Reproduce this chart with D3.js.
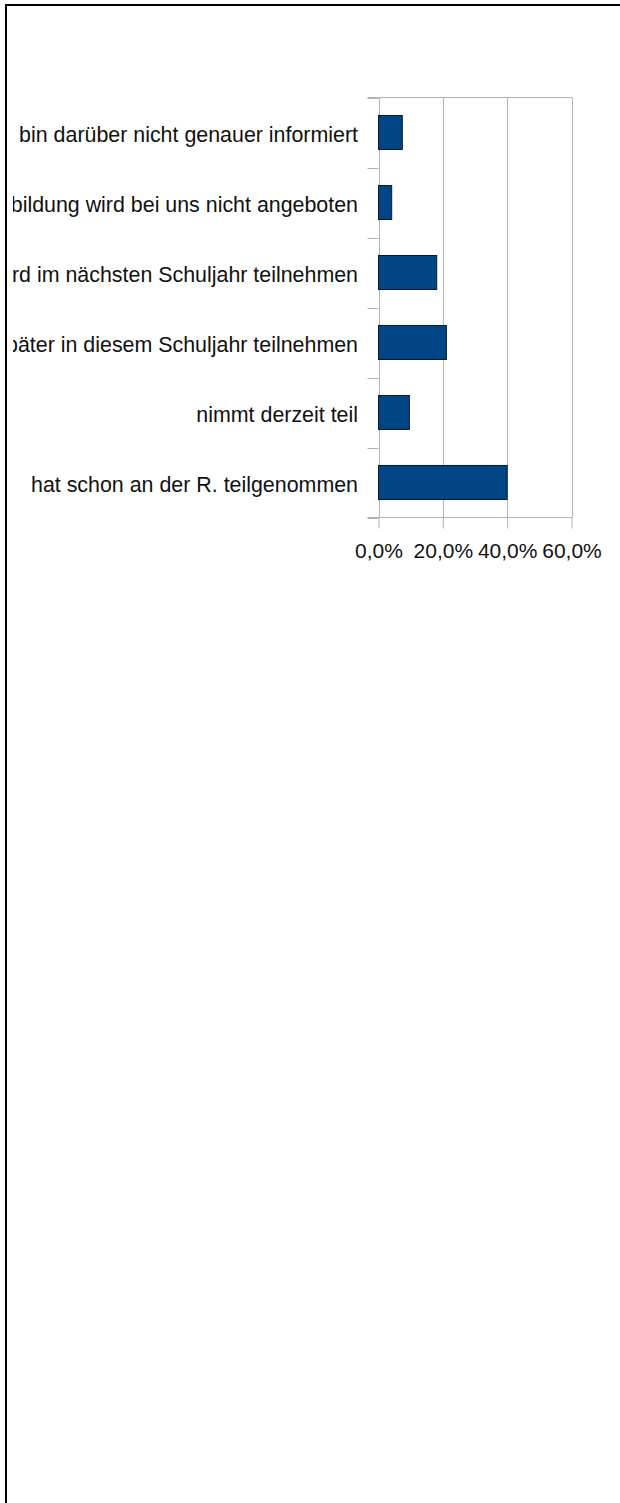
<!DOCTYPE html>
<html>
<head>
<meta charset="utf-8">
<script src="https://cdn.jsdelivr.net/npm/d3@7"></script>
<style>
  html, body { margin: 0; padding: 0; background: #fff; }
  svg { display: block; }
  text { font-family: "Liberation Sans", Arial, sans-serif; fill: #111; }
</style>
</head>
<body>
<script>
// Survey answers, top to bottom
const categories = [
  "Ich bin darüber nicht genauer informiert",
  "Die Fortbildung wird bei uns nicht angeboten",
  "wird im nächsten Schuljahr teilnehmen",
  "wird später in diesem Schuljahr teilnehmen",
  "nimmt derzeit teil",
  "hat schon an der R. teilgenommen"
];
// Share of respondents, in percent
const shares = [7.4, 4.1, 18.1, 21.1, 9.6, 40.0];
// X axis ticks, in percent
const xTicks = [0, 20, 40, 60];

const W = 620, H = 1503;
const plot = { left: 378.5, right: 571.5, top: 97.5, bottom: 517.5 };
const tickFontSize = 21;
const labelFontSize = 21.4;

const svg = d3.select("body").append("svg")
  .attr("width", W).attr("height", H);

// Frame around the chart
svg.append("path")
  .attr("d", `M6,${H} V5 H${W}`)
  .attr("fill", "none").attr("stroke", "#000").attr("stroke-width", 2);

const x = d3.scaleLinear().domain([0, 60]).range([plot.left, plot.right]);
const y = d3.scaleBand().domain(categories)
  .range([plot.top, plot.bottom])
  .paddingInner(0.514).paddingOuter(0.257);

const gridColor = "#b3b3b3";

// Vertical gridlines
svg.append("g").selectAll("line").data(xTicks).join("line")
  .attr("x1", d => Math.round(x(d)) + 0.5).attr("x2", d => Math.round(x(d)) + 0.5)
  .attr("y1", plot.top).attr("y2", plot.bottom)
  .attr("stroke", gridColor).attr("stroke-width", 1);

// Top border of plot area
svg.append("line")
  .attr("x1", plot.left - 11).attr("x2", x(60) + 0.5)
  .attr("y1", plot.top).attr("y2", plot.top)
  .attr("stroke", gridColor);

// Category axis: boundaries between bands
const boundaries = categories.map(c => y(c) - y.step() * y.paddingInner() / 2);
boundaries.push(plot.bottom);
svg.append("g").selectAll("line").data(boundaries).join("line")
  .attr("x1", plot.left - 11).attr("x2", plot.left)
  .attr("y1", d => Math.round(d) + 0.5).attr("y2", d => Math.round(d) + 0.5)
  .attr("stroke", gridColor);

// Value axis
const xAxis = d3.axisBottom(x)
  .tickValues(xTicks)
  .tickSize(11)
  .tickPadding(15)
  .tickFormat(d => d3.format(".1f")(d).replace(".", ",") + "%");
const gx = svg.append("g")
  .attr("transform", `translate(0,${plot.bottom})`)
  .call(xAxis);
gx.select(".domain").remove();
gx.selectAll(".tick line").attr("stroke", gridColor);
gx.selectAll(".tick text")
  .style("font-family", "'Liberation Sans', Arial, sans-serif")
  .style("font-size", tickFontSize + "px").attr("fill", "#111");
svg.append("line")
  .attr("x1", plot.left - 11).attr("x2", x(60) + 0.5)
  .attr("y1", plot.bottom).attr("y2", plot.bottom)
  .attr("stroke", gridColor);

// Bars
svg.append("g").selectAll("rect").data(shares).join("rect")
  .attr("x", x(0))
  .attr("y", (d, i) => y(categories[i]))
  .attr("width", d => x(d) - x(0))
  .attr("height", y.bandwidth())
  .attr("fill", "#004586")
  .attr("stroke", "#0a1a2a").attr("stroke-width", 1);

// Category labels, clipped to the frame
svg.append("clipPath").attr("id", "labelClip")
  .append("rect").attr("x", 13).attr("y", 0).attr("width", 360).attr("height", H);
svg.append("g").attr("clip-path", "url(#labelClip)")
  .selectAll("text").data(categories).join("text")
  .attr("x", 358)
  .attr("y", d => y(d) + y.bandwidth() / 2 + 9)
  .attr("text-anchor", "end")
  .style("font-size", labelFontSize + "px")
  .text(d => d);
</script>
</body>
</html>
